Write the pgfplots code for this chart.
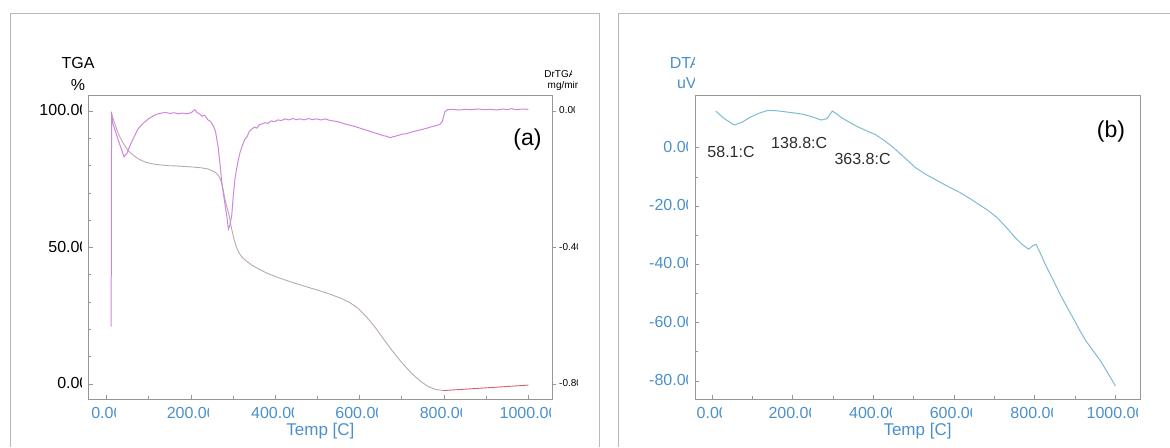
\documentclass[border=0pt]{standalone}
\usepackage{pgfplots}
\pgfplotsset{compat=1.18}
\usepackage{fontspec}
\setmainfont{Liberation Sans}

\definecolor{labelblue}{RGB}{74,144,204}
\definecolor{framegray}{RGB}{150,150,150}
\definecolor{panelgray}{RGB}{185,185,185}
\definecolor{tgacol}{RGB}{185,168,175}
\definecolor{tgaend}{RGB}{215,95,115}
\definecolor{dtgcol}{RGB}{205,135,220}
\definecolor{dtacol}{RGB}{125,188,210}
\definecolor{notecol}{RGB}{45,45,45}

% label whose right end is trimmed off, as the instrument software prints it
\newlength\cutw
\newcommand{\cutlabel}[2][0.4em]{%
  \settowidth{\cutw}{#2}\addtolength{\cutw}{-#1}%
  \tikz[baseline=0pt]{%
    \useasboundingbox (0,-0.22em) rectangle (\cutw,0.78em);
    \clip (0,-0.22em) rectangle (\cutw,0.78em);
    \node[inner sep=0pt,anchor=base west] at (0,0) {#2};}}

\pgfplotstableread{
T TGA
10 99.6
20 95.0
27.6 91.6
40 88.0
51 85.5
63 83.8
75 82.5
90 81.4
107 80.7
126 80.3
146 80.0
166 79.9
186 79.7
205 79.5
225 79.2
240 78.8
249 78.2
258 77.5
265 76.4
269 75.2
273 73.4
277 70.5
281 67.3
285 64.8
290 62.0
296 57.0
302 53.0
308 50.0
314 48.0
320 46.6
330 45.2
344 43.6
362 42.0
383 40.4
410 38.8
439 37.3
470 35.8
502 34.3
530 32.9
557 31.3
578 29.7
597 27.6
616 24.6
636 20.9
656 16.6
676 12.4
700 7.8
723 3.9
745 0.9
763 -1.0
780 -2.0
798 -2.4
}\tgadata

\pgfplotstableread{
T TGA
798 -2.4
850 -1.9
900 -1.4
950 -0.9
1000 -0.4
}\tgaend

\pgfplotstableread{
T DrTGA
10.5 -0.632
11.5 -0.002
14 -0.034
27 -0.084
41 -0.134
48 -0.124
55 -0.102
65 -0.075
75 -0.051
88 -0.034
100 -0.022
112 -0.013
122 -0.008
130 -0.006
140 -0.004
150 -0.007
160 -0.005
170 -0.008
180 -0.006
190 -0.008
200 -0.005
209 0.004
214 -0.004
220 -0.008
226 -0.015
232 -0.012
240 -0.026
246 -0.030
253 -0.044
258 -0.060
264 -0.104
269 -0.160
273 -0.210
277 -0.245
281 -0.278
285 -0.310
288.5 -0.346
292 -0.335
296.5 -0.306
300 -0.250
304 -0.200
310 -0.155
316 -0.122
322 -0.100
328 -0.082
333 -0.075
338 -0.060
344 -0.053
350 -0.047
356 -0.050
362 -0.040
368 -0.038
375 -0.034
382 -0.036
390 -0.029
398 -0.031
406 -0.026
414 -0.028
423 -0.023
432 -0.026
441 -0.022
450 -0.025
459 -0.023
468 -0.026
478 -0.022
488 -0.025
498 -0.023
508 -0.026
518 -0.023
528 -0.027
537 -0.029
548 -0.031
560 -0.036
572 -0.040
585 -0.044
598 -0.049
610 -0.054
621 -0.058
632 -0.063
644 -0.067
655 -0.072
664 -0.074
672 -0.078
680 -0.075
690 -0.072
700 -0.068
712 -0.066
724 -0.061
735 -0.058
748 -0.054
760 -0.050
770 -0.046
780 -0.043
790 -0.039
796 -0.030
802 -0.002
808 0.004
820 0.005
835 0.003
850 0.005
865 0.004
880 0.006
895 0.004
910 0.005
925 0.003
940 0.006
950 0.004
960 0.007
970 0.004
985 0.006
1000 0.005
}\dtgdata

\pgfplotstableread{
T DTA
9 12.6
30 10.0
55 7.8
75 8.8
92 10.3
115 11.8
138 12.8
160 12.7
183 12.3
206 11.9
229 11.4
250 10.5
271 9.5
285 10.0
298 12.6
310 11.5
321 10.3
340 8.8
358 7.4
380 6.0
404 4.6
428 2.4
450 0.0
478 -3.5
505 -6.9
532 -9.3
560 -11.4
588 -13.5
615 -15.4
638 -17.3
661 -19.4
685 -21.6
707 -24.0
730 -27.4
752 -30.9
770 -33.3
785 -34.8
795 -33.6
803 -33.1
815 -36.5
826 -40.0
845 -45.2
863 -50.3
881 -54.9
899 -59.4
913 -63.0
927 -66.3
945 -69.7
963 -73.1
982 -77.5
1000 -81.7
}\dtadata

\pgfplotsset{
  panel/.style={
    scale only axis,
    height=152pt,
    axis line style={framegray, line width=0.4pt},
    every tick/.style={framegray, line width=0.4pt},
    major tick length=2.2pt,
    minor tick length=1.3pt,
    tick align=inside,
    xtick pos=bottom,
    ytick pos=left,
    xtick={0,200,...,1000},
    minor x tick num=1,
    xticklabels={\cutlabel{0.00},\cutlabel{200.00},\cutlabel{400.00},
      \cutlabel{600.00},\cutlabel{800.00},\cutlabel{1000.00}},
    ticklabel style={font=\fontsize{8}{9}\selectfont},
    xticklabel style={color=labelblue},
    yticklabel style={inner xsep=0pt},
    xlabel={Temp [C]},
    xlabel style={font=\fontsize{8.5}{10}\selectfont, color=labelblue,
      at={(axis description cs:0.5,0)}, anchor=center, yshift=-16pt},
  },
}

\begin{document}
\begin{tikzpicture}
\path[use as bounding box] (0,0) rectangle (585pt,223.5pt);

% panel frames
\draw[panelgray, line width=0.4pt] (5pt,0) -- (5pt,217pt) -- (299.5pt,217pt) -- (299.5pt,0);
\draw[panelgray, line width=0.4pt] (309pt,0) -- (309pt,217pt) -- (585pt,217pt);

% (a) TGA with its derivative
\begin{axis}[panel,
  at={(44.4pt,24pt)}, anchor=south west, width=231.6pt,
  xmin=-42.5, xmax=1056, ymin=-5.5, ymax=105.9,
  ytick={0,50,100}, minor y tick num=4,
  yticklabels={\cutlabel{0.00},\cutlabel{50.00},\cutlabel{100.00}},
  yticklabel style={color=black},
]
\addplot[tgacol, line width=0.45pt] table[x=T, y=TGA] {\tgadata};
\addplot[tgaend, line width=0.45pt] table[x=T, y=TGA] {\tgaend};
\node[font=\fontsize{11.5}{12}\selectfont, color=black] at (axis cs:998,89.4) {(a)};
\end{axis}

\begin{axis}[
  scale only axis, height=152pt,
  at={(44.4pt,24pt)}, anchor=south west, width=231.6pt,
  xmin=-42.5, xmax=1056, ymin=-0.844, ymax=0.047,
  axis x line=none, axis y line*=right,
  axis line style={framegray, line width=0.4pt},
  every tick/.style={framegray, line width=0.4pt},
  major tick length=2.2pt, tick align=outside,
  ytick={-0.8,-0.4,0},
  yticklabels={\cutlabel{-0.80},\cutlabel{-0.40},\cutlabel{0.00}},
  yticklabel style={font=\fontsize{5}{6}\selectfont, color=black, inner xsep=1pt},
]
\addplot[dtgcol, line width=0.5pt] table[x=T, y=DrTGA] {\dtgdata};
\end{axis}

% (b) DTA
\begin{axis}[panel,
  at={(347.5pt,24pt)}, anchor=south west, width=222.5pt,
  xmin=-42.4, xmax=1061, ymin=-86.2, ymax=18.1,
  ytick={-80,-60,-40,-20,0}, minor y tick num=1,
  yticklabels={\cutlabel{-80.00},\cutlabel{-60.00},\cutlabel{-40.00},\cutlabel{-20.00},\cutlabel{0.00}},
  yticklabel style={color=labelblue},
]
\addplot[dtacol, line width=0.5pt] table[x=T, y=DTA] {\dtadata};
\node[font=\fontsize{8}{9}\selectfont, color=notecol] at (axis cs:47,-1.6) {58.1:C};
\node[font=\fontsize{8}{9}\selectfont, color=notecol] at (axis cs:216,1.8) {138.8:C};
\node[font=\fontsize{8}{9}\selectfont, color=notecol] at (axis cs:373,-4.0) {363.8:C};
\node[font=\fontsize{11.5}{12}\selectfont, color=black] at (axis cs:989,5.7) {(b)};
\end{axis}

% axis titles
\node[font=\fontsize{8}{9}\selectfont] at (39pt,192pt) {TGA};
\node[font=\fontsize{8}{9}\selectfont] at (39pt,181pt) {\%};
\node[font=\fontsize{5}{6}\selectfont, anchor=east, inner sep=0pt] at (286pt,186pt) {\cutlabel[0.35em]{DrTGA}};
\node[font=\fontsize{5}{6}\selectfont, anchor=east, inner sep=0pt] at (289pt,180.5pt) {\cutlabel[0.25em]{mg/min}};
\node[font=\fontsize{8}{9}\selectfont, color=labelblue, anchor=east, inner sep=0pt] at (347.5pt,191.5pt) {\cutlabel[0.35em]{DTA}};
\node[font=\fontsize{8}{9}\selectfont, color=labelblue, anchor=east, inner sep=0pt] at (347.5pt,181.5pt) {\cutlabel[0.1em]{uV}};
\end{tikzpicture}
\end{document}
